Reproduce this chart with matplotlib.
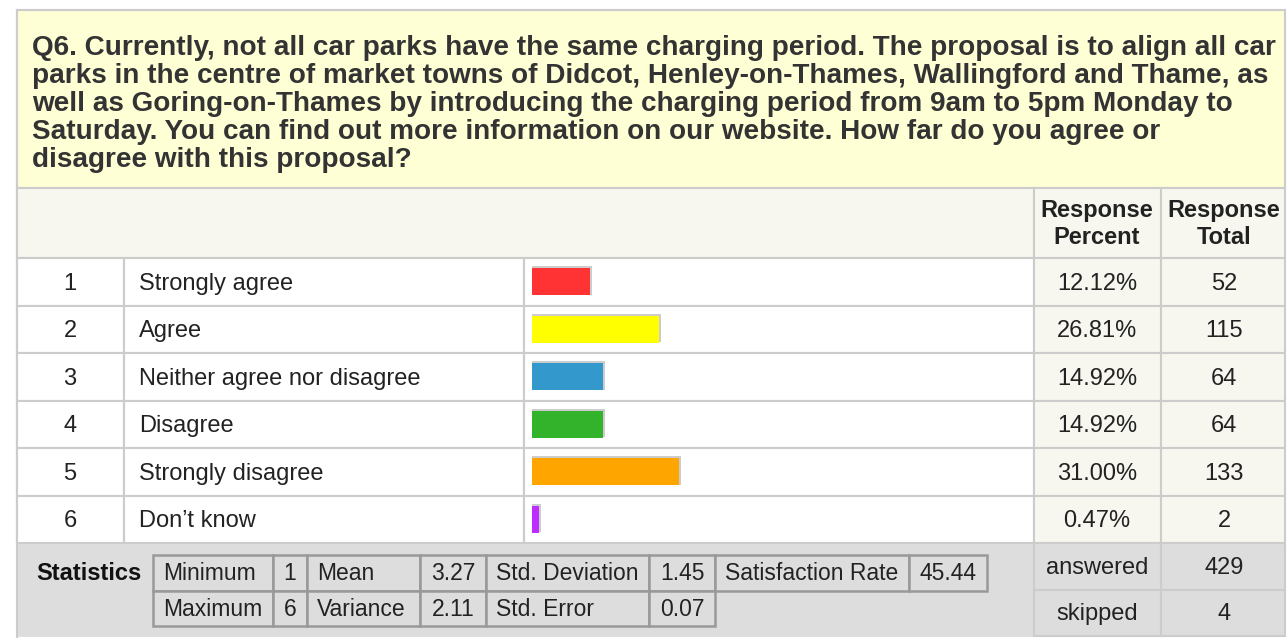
import numpy as np
import matplotlib.pyplot as plt
from matplotlib.patches import Rectangle

plt.rcParams['font.family'] = ['Liberation Sans', 'DejaVu Sans']

# Data
question = [
    "Q6. Currently, not all car parks have the same charging period. The proposal is to align all car",
    "parks in the centre of market towns of Didcot, Henley-on-Thames, Wallingford and Thame, as",
    "well as Goring-on-Thames by introducing the charging period from 9am to 5pm Monday to",
    "Saturday. You can find out more information on our website. How far do you agree or",
    "disagree with this proposal?",
]
answers = ['Strongly agree', 'Agree', 'Neither agree nor disagree', 'Disagree',
           'Strongly disagree', 'Don\u2019t know']
percent = [12.12, 26.81, 14.92, 14.92, 31.00, 0.47]
totals = [52, 115, 64, 64, 133, 2]
bar_colors = ['#ff3333', '#ffff00', '#3399cc', '#33b32b', '#ffa500', '#bb2eff']
answered = 429
skipped = 4
stats_row1 = ['Minimum', '1', 'Mean', '3.27', 'Std. Deviation', '1.45', 'Satisfaction Rate', '45.44']
stats_row2 = ['Maximum', '6', 'Variance', '2.11', 'Std. Error', '0.07']

W, H = 1287, 640
fig = plt.figure(figsize=(W / 100, H / 100), dpi=100)
ax = fig.add_axes([0, 0, 1, 1])
ax.set_xlim(0, W)
ax.set_ylim(H, 0)
ax.axis('off')

FS = 17
line = '#cccccc'
cream = '#f7f7f0'
tc = '#222222'
dy = 2  # nudge text down to sit like the reference


def box(x0, y0, x1, y1, fc, ec=line, lw=1.5, z=1):
    ax.add_patch(Rectangle((x0, y0), x1 - x0, y1 - y0, facecolor=fc,
                           edgecolor=ec, linewidth=lw, zorder=z))


def txt(x, y, s, ha='center', **kw):
    ax.text(x, y + dy, s, fontsize=kw.pop('fontsize', FS), ha=ha, va='center',
            color=kw.pop('color', tc), zorder=3, **kw)


# question header
box(17, 10, 1285, 188, '#ffffd5')
for i, q in enumerate(question):
    txt(32, 46 + i * 28, q, ha='left', fontsize=20.1, fontweight='bold', color='#333333')

# column header row
box(17, 188, 1034, 258, cream)
box(1034, 188, 1161, 258, cream)
box(1161, 188, 1285, 258, cream)
txt(1097, 209, 'Response', fontweight='bold')
txt(1097, 236, 'Percent', fontweight='bold')
txt(1224, 209, 'Response', fontweight='bold')
txt(1224, 236, 'Total', fontweight='bold')

# answer rows
top = 258
rh = 47.5
for i, (a, p, t) in enumerate(zip(answers, percent, totals)):
    y0 = top + i * rh
    y1 = y0 + rh
    yc = (y0 + y1) / 2
    box(17, y0, 124, y1, 'white')
    box(124, y0, 524, y1, 'white')
    box(524, y0, 1034, y1, 'white')
    box(1034, y0, 1161, y1, cream)
    box(1161, y0, 1285, y1, cream)
    txt(70, yc, str(i + 1))
    txt(139, yc, a, ha='left')
    txt(1097, yc, f'{p:.2f}%')
    txt(1224, yc, str(t))

bottom = top + 6 * rh

# statistics band
ax.add_patch(Rectangle((17, bottom), 1034 - 17, 637 - bottom, facecolor='#dddddd',
                       edgecolor='none', zorder=0.5))
txt(36, 572, 'Statistics', ha='left', fontweight='bold', color='#111111')
cols1 = [153, 273, 307, 420, 486, 649, 715, 909, 987]
for r, (row, ya, yb) in enumerate([(stats_row1, 555, 591), (stats_row2, 591, 626)]):
    for j, s in enumerate(row):
        box(cols1[j], ya, cols1[j + 1], yb, '#dddddd', ec='#999999', lw=1.8, z=2)
        if j % 2:
            txt((cols1[j] + cols1[j + 1]) / 2, (ya + yb) / 2 - 1, s, fontsize=FS - 0.5)
        else:
            txt(cols1[j] + 10, (ya + yb) / 2 - 1, s, ha='left', fontsize=FS - 0.5)

# answered / skipped
box(1034, bottom, 1161, 590, '#dddddd')
box(1161, bottom, 1285, 590, '#dddddd')
box(1034, 590, 1161, 636, '#dddddd')
box(1161, 590, 1285, 636, '#dddddd')
txt(1097, 566, 'answered')
txt(1224, 566, str(answered))
txt(1097, 612, 'skipped')
txt(1224, 612, str(skipped))

# outer left edge
ax.plot([17, 17], [10, 637], color=line, lw=1.5, zorder=4)

# bars
px_per_pct = 4.75
bx0, bx1 = 532, 1030
bax = fig.add_axes([bx0 / W, (H - bottom) / H, (bx1 - bx0) / W, 6 * rh / H])
bax.set_xlim(0, (bx1 - bx0) / px_per_pct)
bax.set_ylim(5.5, -0.5)
bax.axis('off')
bax.patch.set_alpha(0)
ypos = np.arange(len(percent))
shown = np.maximum(percent, 1.5)
bax.barh(ypos - 0.03, shown + 0.45, height=0.6, color='#cccccc')
bax.barh(ypos, shown, height=0.57, color=bar_colors)

fig.savefig('out.png', dpi=100)
